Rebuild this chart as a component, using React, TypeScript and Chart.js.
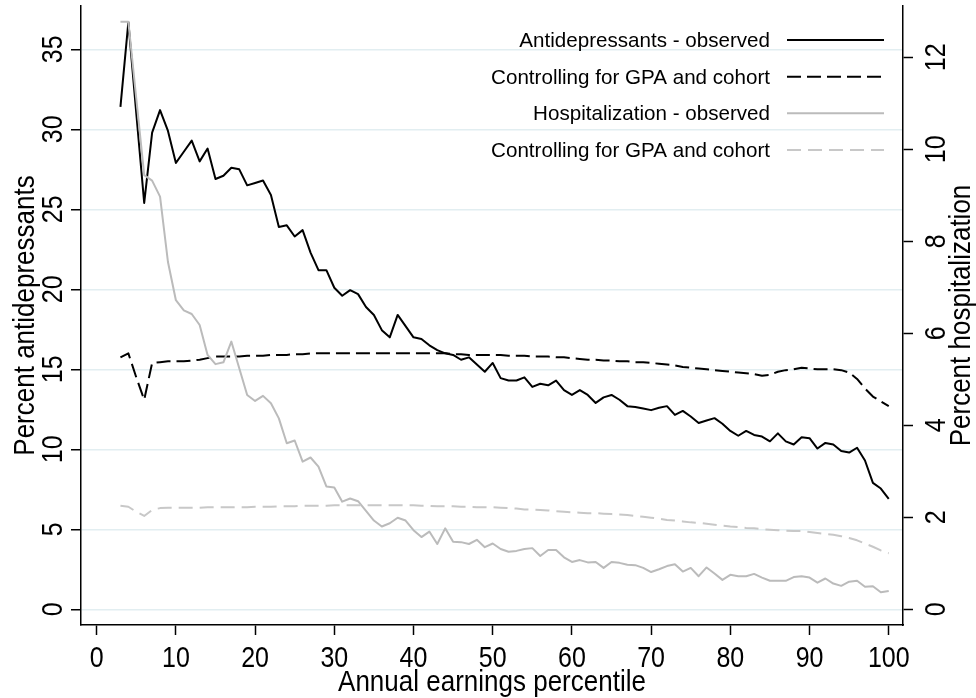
import { useEffect, useRef } from 'react'
import { Chart, registerables } from 'chart.js'

Chart.register(...registerables)

// annual earnings percentile (x)
const percentiles = [
  3, 4, 5, 6, 7, 8, 9, 10, 11, 12, 13, 14, 15, 16, 17, 18, 19, 20, 21, 22,
  23, 24, 25, 26, 27, 28, 29, 30, 31, 32, 33, 34, 35, 36, 37, 38, 39, 40, 41, 42,
  43, 44, 45, 46, 47, 48, 49, 50, 51, 52, 53, 54, 55, 56, 57, 58, 59, 60, 61, 62,
  63, 64, 65, 66, 67, 68, 69, 70, 71, 72, 73, 74, 75, 76, 77, 78, 79, 80, 81, 82,
  83, 84, 85, 86, 87, 88, 89, 90, 91, 92, 93, 94, 95, 96, 97, 98, 99, 100,
]

// percent antidepressants (left axis)
const antidepObserved = [
  31.4, 36.7, 31.0, 25.4, 29.8, 31.2, 29.9, 27.9, 28.6, 29.3, 28.0, 28.8, 26.9, 27.1, 27.6, 27.5, 26.5, 26.65, 26.8, 25.9,
  23.9, 24.0, 23.3, 23.7, 22.3, 21.2, 21.2, 20.1, 19.6, 19.95, 19.7, 18.9, 18.4, 17.45, 17.0, 18.4, 17.7, 17.0, 16.9, 16.5,
  16.2, 16.0, 15.9, 15.6, 15.75, 15.3, 14.85, 15.4, 14.45, 14.3, 14.3, 14.5, 13.9, 14.1, 14.0, 14.3, 13.7, 13.4, 13.7, 13.4,
  12.9, 13.25, 13.4, 13.1, 12.7, 12.65, 12.55, 12.45, 12.6, 12.7, 12.15, 12.4, 12.05, 11.65, 11.8, 11.95, 11.6, 11.15, 10.85, 11.15,
  10.9, 10.8, 10.5, 11.0, 10.5, 10.3, 10.75, 10.7, 10.05, 10.4, 10.3, 9.9, 9.8, 10.1, 9.3, 7.9, 7.55, 6.9,
]
const antidepControlled = [
  15.75, 16.0, 14.5, 13.1, 15.4, 15.45, 15.5, 15.5, 15.5, 15.55, 15.6, 15.7, 15.8, 15.8, 15.8, 15.8, 15.85, 15.85, 15.85, 15.9,
  15.9, 15.9, 15.95, 15.95, 16.0, 16.0, 16.0, 16.0, 16.0, 16.0, 16.0, 16.0, 16.0, 16.0, 16.0, 16.0, 16.0, 16.0, 16.0, 16.0,
  16.0, 16.0, 15.95, 15.95, 15.9, 15.9, 15.9, 15.9, 15.9, 15.85, 15.85, 15.85, 15.8, 15.8, 15.8, 15.75, 15.75, 15.7, 15.65, 15.6,
  15.6, 15.55, 15.55, 15.5, 15.5, 15.45, 15.45, 15.4, 15.35, 15.3, 15.25, 15.15, 15.1, 15.05, 15.0, 14.95, 14.9, 14.85, 14.8, 14.75,
  14.7, 14.6, 14.65, 14.85, 14.95, 15.0, 15.1, 15.05, 15.0, 15.0, 15.0, 14.95, 14.8, 14.4, 13.8, 13.3, 13.0, 12.7,
]

// percent hospitalization (right axis)
const hospObserved = [
  12.77, 12.77, 11.1, 9.44, 9.32, 8.97, 7.55, 6.72, 6.5, 6.42, 6.18, 5.53, 5.33, 5.37, 5.82, 5.24, 4.66, 4.53, 4.64, 4.48,
  4.15, 3.61, 3.67, 3.21, 3.3, 3.1, 2.67, 2.65, 2.34, 2.41, 2.35, 2.14, 1.93, 1.8, 1.87, 1.99, 1.93, 1.72, 1.57, 1.69,
  1.42, 1.76, 1.47, 1.46, 1.42, 1.51, 1.35, 1.43, 1.31, 1.25, 1.27, 1.31, 1.33, 1.16, 1.29, 1.29, 1.13, 1.03, 1.07, 1.02,
  1.03, 0.9, 1.03, 1.01, 0.97, 0.96, 0.9, 0.81, 0.87, 0.94, 0.98, 0.82, 0.9, 0.72, 0.91, 0.78, 0.64, 0.75, 0.72, 0.72,
  0.77, 0.69, 0.62, 0.62, 0.62, 0.7, 0.72, 0.69, 0.58, 0.67, 0.56, 0.51, 0.6, 0.62, 0.49, 0.5, 0.37, 0.4,
]
const hospControlled = [
  2.25, 2.23, 2.12, 2.03, 2.16, 2.2, 2.21, 2.21, 2.21, 2.21, 2.21, 2.22, 2.22, 2.22, 2.22, 2.22, 2.22, 2.23, 2.23, 2.23,
  2.24, 2.24, 2.24, 2.25, 2.25, 2.25, 2.25, 2.26, 2.26, 2.26, 2.26, 2.26, 2.26, 2.26, 2.26, 2.26, 2.26, 2.26, 2.25, 2.25,
  2.24, 2.24, 2.24, 2.23, 2.23, 2.22, 2.22, 2.22, 2.21, 2.2, 2.19, 2.17, 2.17, 2.16, 2.15, 2.13, 2.12, 2.11, 2.1, 2.09,
  2.09, 2.08, 2.07, 2.06, 2.05, 2.03, 2.01, 1.99, 1.97, 1.94, 1.93, 1.91, 1.89, 1.88, 1.86, 1.84, 1.82, 1.8, 1.79, 1.77,
  1.76, 1.74, 1.73, 1.72, 1.71, 1.7, 1.7, 1.68, 1.66, 1.64, 1.62, 1.59, 1.55, 1.5, 1.43, 1.36, 1.28, 1.22,
]

const seriesLabels = [
  'Antidepressants - observed',
  'Controlling for GPA and cohort',
  'Hospitalization - observed',
  'Controlling for GPA and cohort',
]

const xTicks = [0, 10, 20, 30, 40, 50, 60, 70, 80, 90, 100]
const leftTicks = [0, 5, 10, 15, 20, 25, 30, 35]
const rightTicks = [0, 2, 4, 6, 8, 10, 12]

const xTitle = 'Annual earnings percentile'
const leftTitle = 'Percent antidepressants'
const rightTitle = 'Percent hospitalization'

const FONT = '"Liberation Sans", Arial, sans-serif'

const lineStyles = [
  { color: '#000000', dash: [] as number[], yAxisID: 'y', order: 3 },
  { color: '#000000', dash: [14, 6], yAxisID: 'y', order: 2 },
  { color: '#bbbbbb', dash: [] as number[], yAxisID: 'y1', order: 1 },
  { color: '#c8c8c8', dash: [14, 7], yAxisID: 'y1', order: 0 },
]

const toPoints = (vals: number[]) => vals.map((v, i) => ({ x: percentiles[i], y: v }))

// Stata-like text: tall glyphs, rotated y labels, legend on the right
const stataText = {
  id: 'stataText',
  afterDraw(chart: any) {
    const { ctx, scales, chartArea } = chart
    const put = (text: string, px: number, py: number, rot: number, size: number, sy: number, align: CanvasTextAlign = 'center') => {
      ctx.save()
      ctx.translate(px, py)
      if (rot) ctx.rotate(rot)
      ctx.scale(1, sy)
      ctx.font = `${size}px ${FONT}`
      ctx.textAlign = align
      ctx.textBaseline = 'alphabetic'
      ctx.fillStyle = '#000'
      ctx.fillText(text, 0, 0)
      ctx.restore()
    }
    const midY = (chartArea.top + chartArea.bottom) / 2
    const midX = (chartArea.left + chartArea.right) / 2

    xTicks.forEach((v) => put(String(v), scales.x.getPixelForValue(v), 666.5, 0, 25, 1.2))
    leftTicks.forEach((v) => put(String(v), 61.5, scales.y.getPixelForValue(v), -Math.PI / 2, 25, 1.2))
    rightTicks.forEach((v) => put(String(v), 945, scales.y1.getPixelForValue(v), -Math.PI / 2, 25, 1.2))

    put(xTitle, midX, 690.5, 0, 26, 1.12)
    put(leftTitle, 33.5, midY, -Math.PI / 2, 26, 1.15)
    put(rightTitle, 970, midY, -Math.PI / 2, 26, 1.15)

    // legend
    const rowY = [40, 76.7, 113.3, 150]
    seriesLabels.forEach((label, i) => {
      const st = lineStyles[i]
      put(label, 770, rowY[i] + 7, 0, 20.6, 1.0, 'right')
      ctx.save()
      ctx.strokeStyle = st.color
      ctx.lineWidth = 2
      ctx.setLineDash(st.dash)
      ctx.beginPath()
      ctx.moveTo(787, rowY[i])
      ctx.lineTo(884, rowY[i])
      ctx.stroke()
      ctx.restore()
    })
  },
}

const App = () => {
  const canvasRef = useRef<HTMLCanvasElement>(null)
  const chartRef = useRef<Chart | null>(null)

  useEffect(() => {
    document.body.style.margin = '0'
    chartRef.current?.destroy()
    if (!canvasRef.current) return

    const series = [antidepObserved, antidepControlled, hospObserved, hospControlled]

    chartRef.current = new Chart(canvasRef.current, {
      type: 'line',
      data: {
        datasets: series.map((vals, i) => ({
          label: seriesLabels[i],
          data: toPoints(vals),
          yAxisID: lineStyles[i].yAxisID,
          order: lineStyles[i].order,
          borderColor: lineStyles[i].color,
          borderDash: lineStyles[i].dash,
          borderWidth: 2,
          borderJoinStyle: 'round',
          pointRadius: 0,
          tension: 0,
          fill: false,
        })),
      },
      options: {
        responsive: false,
        animation: false,
        events: [],
        layout: { padding: { top: 6, left: 0, right: 0, bottom: 0 } },
        plugins: {
          legend: { display: false },
          tooltip: { enabled: false },
          title: { display: false },
        },
        scales: {
          x: {
            type: 'linear',
            position: 'bottom',
            min: -1.98,
            max: 101.8,
            afterBuildTicks: (s: any) => { s.ticks = xTicks.map((v) => ({ value: v })) },
            afterFit: (s: any) => { s.height = 73 },
            ticks: { display: false },
            grid: {
              display: true,
              drawOnChartArea: false,
              drawTicks: true,
              tickLength: 10,
              tickColor: '#000',
              tickWidth: 1.5,
            },
            border: { display: true, color: '#000', width: 1.5 },
          },
          y: {
            type: 'linear',
            position: 'left',
            min: -0.98,
            max: 37.71,
            afterBuildTicks: (s: any) => { s.ticks = leftTicks.map((v) => ({ value: v })) },
            afterFit: (s: any) => { s.width = 81 },
            ticks: { display: false },
            grid: {
              display: true,
              drawOnChartArea: true,
              color: '#e2eef1',
              lineWidth: 1.5,
              drawTicks: true,
              tickLength: 10,
              tickColor: '#000',
              tickWidth: 1.5,
            },
            border: { display: true, color: '#000', width: 1.5 },
          },
          y1: {
            type: 'linear',
            position: 'right',
            min: -0.341,
            max: 13.115,
            afterBuildTicks: (s: any) => { s.ticks = rightTicks.map((v) => ({ value: v })) },
            afterFit: (s: any) => { s.width = 73 },
            ticks: { display: false },
            grid: {
              display: true,
              drawOnChartArea: false,
              drawTicks: true,
              tickLength: 10,
              tickColor: '#000',
              tickWidth: 1.5,
            },
            border: { display: true, color: '#000', width: 1.5 },
          },
        },
      } as any,
      plugins: [stataText],
    })

    return () => {
      chartRef.current?.destroy()
      chartRef.current = null
    }
  }, [])

  return (
    <div style={{ width: 976, height: 698, background: '#fff' }}>
      <canvas ref={canvasRef} width={976} height={698} style={{ display: 'block' }} />
    </div>
  )
}

export default App
